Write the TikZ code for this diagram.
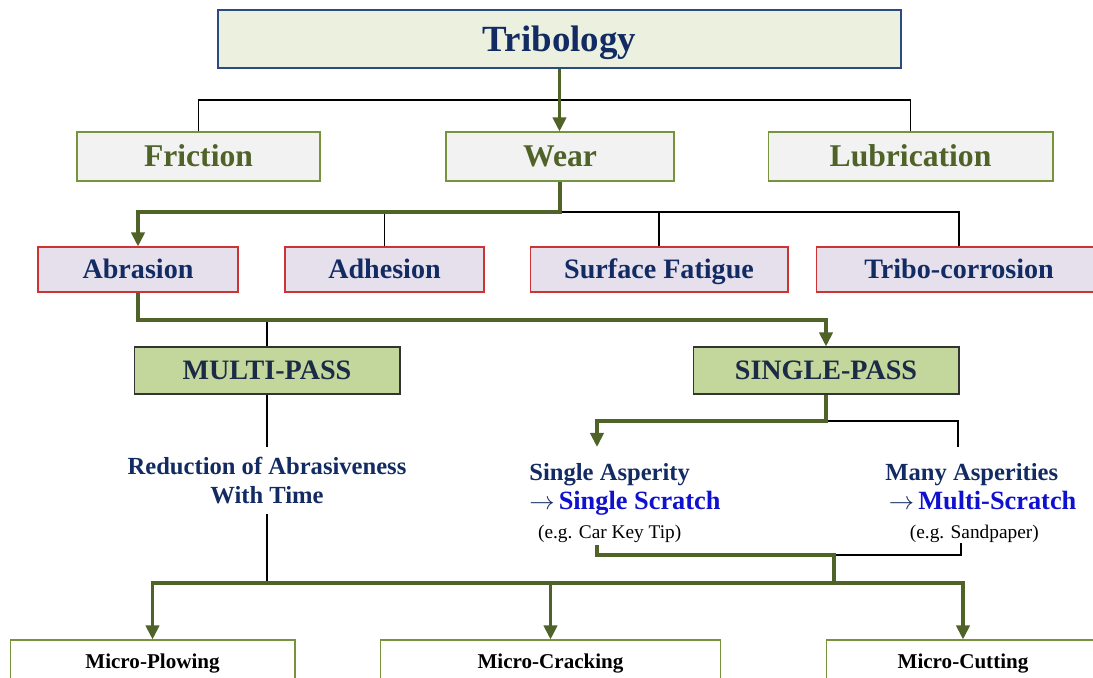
\documentclass[tikz,border=0pt]{standalone}
\usepackage{fontspec}
\setmainfont{Liberation Serif}
\usetikzlibrary{arrows.meta}

\definecolor{navy}{HTML}{132B63}
\definecolor{darknavy}{HTML}{1B2A47}
\definecolor{olive}{HTML}{4F6228}
\definecolor{oliveline}{HTML}{77933C}
\definecolor{tribfill}{HTML}{EBF1DE}
\definecolor{tribline}{HTML}{2A4A80}
\definecolor{catfill}{HTML}{F2F2F2}
\definecolor{mechfill}{HTML}{E6E0EC}
\definecolor{mechline}{HTML}{CC3333}
\definecolor{passfill}{HTML}{C3D69B}
\definecolor{scratchblue}{HTML}{1010D0}

\begin{document}
\begin{tikzpicture}[
    x=0.02cm, y=-0.02cm,
    topbox/.style={rectangle, draw=tribline, fill=tribfill, line width=0.7pt, minimum width=13.66cm, minimum height=1.16cm, text height=13.9pt, text depth=0pt, text=navy, font=\bfseries\fontsize{21}{25}\selectfont},
    catbox/.style={rectangle, draw=oliveline, fill=catfill, line width=0.6pt, minimum height=0.98cm, text height=11.9pt, text depth=0pt, text=olive, font=\bfseries\fontsize{18}{21}\selectfont},
    mechbox/.style={rectangle, draw=mechline, fill=mechfill, line width=0.6pt, minimum height=0.9cm, text height=10.6pt, text depth=0pt, text=navy, font=\bfseries\fontsize{16}{19}\selectfont},
    passbox/.style={rectangle, draw=black!80, fill=passfill, line width=0.6pt, minimum width=5.32cm, minimum height=0.94cm, text height=10.6pt, text depth=0pt, text=darknavy, font=\bfseries\fontsize{16}{19}\selectfont},
    outbox/.style={rectangle, draw=oliveline, fill=white, line width=0.6pt, minimum height=0.88cm, text height=7.9pt, text depth=0pt, font=\bfseries\fontsize{12}{14}\selectfont},
    note/.style={inner sep=0pt, text=navy, font=\bfseries\fontsize{14}{16.5}\selectfont},
    flow/.style={draw=olive, line width=2.2pt, -{Triangle[width=7.5pt,length=8pt]}},
    flowline/.style={draw=olive, line width=2.2pt},
    link/.style={draw=black, line width=0.6pt}
]
\useasboundingbox (0,0) rectangle (1093,677);
\clip (0,0) rectangle (1093,677);

% Nodes
\node (tribology) [topbox] at (559.5,39) {Tribology};

\node (friction) [catbox, minimum width=4.86cm] at (198.5,156.5) {Friction};
\node (wear) [catbox, minimum width=4.56cm] at (560,156.5) {Wear};
\node (lubrication) [catbox, minimum width=5.7cm] at (910.5,156.5) {Lubrication};

\node (abrasion) [mechbox, minimum width=4cm] at (138,269.5) {Abrasion};
\node (adhesion) [mechbox, minimum width=3.98cm] at (384.5,269.5) {Adhesion};
\node (fatigue) [mechbox, minimum width=5.16cm] at (659,269.5) {Surface Fatigue};
\node (corrosion) [mechbox, minimum width=5.72cm] at (959,269.5) {Tribo-corrosion};

\node (multipass) [passbox] at (267,370.5) {MULTI-PASS};
\node (singlepass) [passbox] at (826,370.5) {SINGLE-PASS};

\node (reduction) [note, inner sep=5.5pt, align=center, anchor=north] at (267,447) {Reduction of Abrasiveness\\With Time};
\node (singleasp) [note, anchor=north west, align=left] at (529,463)
    {Single Asperity\\
     \mdseries$\rightarrow$\,\bfseries\textcolor{scratchblue}{\fontsize{15}{16.5}\selectfont Single Scratch}\\
     \hspace*{5pt}{\color{black}\mdseries\fontsize{11}{16}\selectfont (e.g. Car Key Tip)}};
\node (manyasp) [note, anchor=north west, align=left] at (885,463)
    {Many Asperities\\
     \hspace*{2pt}\mdseries$\rightarrow$\,\bfseries\textcolor{scratchblue}{\fontsize{15}{16.5}\selectfont Multi-Scratch}\\
     \hspace*{14pt}{\color{black}\mdseries\fontsize{11}{16}\selectfont (e.g. Sandpaper)}};

\node (plowing) [outbox, minimum width=5.7cm] at (152.5,662) {Micro-Plowing};
\node (cracking) [outbox, minimum width=6.82cm] at (550.5,662) {Micro-Cracking};
\node (cutting) [outbox, minimum width=5.48cm] at (963,662) {Micro-Cutting};

% Edges
\coordinate (bar1) at (559.5,100);
\draw [link] (friction.north) |- (bar1) -| (lubrication.north);
\draw [flow] (tribology.south) -- (tribology.south |- wear.north);

\coordinate (bar2) at (560,212);
\draw [link] (bar2) -| (corrosion.north);
\draw [link] (adhesion.north) -- (adhesion.north |- bar2);
\draw [link] (fatigue.north) -- (fatigue.north |- bar2);
\draw [flow] (wear.south) -- (bar2) -| (abrasion.north);

\coordinate (bar3) at (138,320);
\draw [link] (multipass.north) -- (multipass.north |- bar3);
\draw [flow] (abrasion.south) -- (bar3) -| (singlepass.north);

\coordinate (bus) at (834,583);
\draw [link] (multipass.south) -- (reduction.north);
\draw [link] (reduction.south) -- (reduction.south |- bus);

\coordinate (bar4) at (826,421);
\coordinate (sa-top) at (597,447);
\coordinate (ma-top) at (958,447);
\draw [link] (bar4) -| (ma-top);
\draw [flow] (singlepass.south) -- (bar4) -| (sa-top);

\coordinate (sa-bot) at (597,545);
\coordinate (ma-bot) at (961,543);
\coordinate (bar5) at (834,555);
\draw [link] (bar5) -| (ma-bot);
\draw [flowline] (sa-bot) |- (bar5) -- (bus);

% Outputs
\draw [flow] (bus) -| (plowing.north);
\draw [flow] (bus) -| (cutting.north);
\draw [flow] (cracking.north |- bus) -- (cracking.north);

\end{tikzpicture}
\end{document}
